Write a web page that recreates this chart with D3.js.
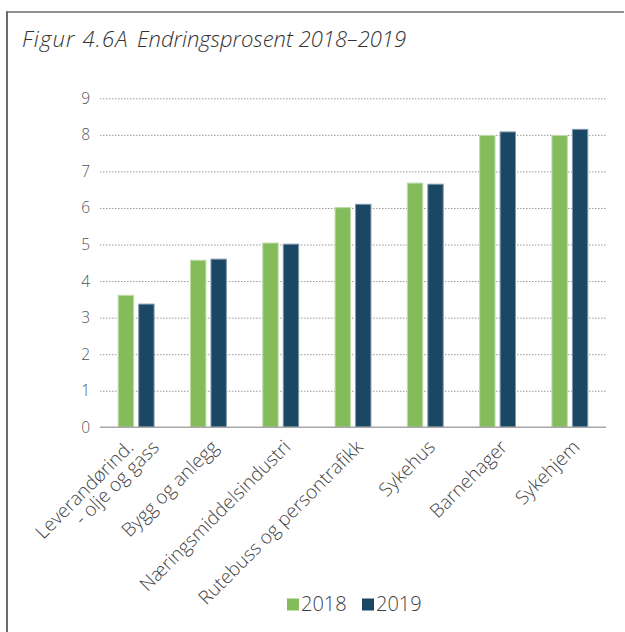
<!DOCTYPE html>
<html>
<head>
<meta charset="utf-8">
<script src="https://cdn.jsdelivr.net/npm/d3@7"></script>
<style>
  html, body { margin: 0; padding: 0; background: #fff; }
  svg { display: block; font-family: "Open Sans", "Noto Sans", sans-serif; }
</style>
</head>
<body>
<svg id="chart" width="625" height="632"></svg>
<script>
// Endringsprosent 2018–2019 per bransje
const categories = [
  "Leverandørind.\n- olje og gass",
  "Bygg og anlegg",
  "Næringsmiddelsindustri",
  "Rutebuss og persontrafikk",
  "Sykehus",
  "Barnehager",
  "Sykehjem"
];
const seriesNames = ["2018", "2019"];
const values2018 = [3.61, 4.57, 5.04, 6.01, 6.68, 7.98, 7.98];
const values2019 = [3.37, 4.60, 5.01, 6.10, 6.65, 8.08, 8.15];
const yTicks = [0, 1, 2, 3, 4, 5, 6, 7, 8, 9];
const figureNo = "Figur 4.6A";
const title = "Endringsprosent 2018–2019";

const colors = { "2018": "#84bc5c", "2019": "#1a4764" };
const strokes = { "2018": "#bcdca6", "2019": "#8199aa" };

const svg = d3.select("#chart");

// frame: top and left rule
svg.append("line").attr("x1", 6).attr("x2", 624).attr("y1", 12).attr("y2", 12)
  .attr("stroke", "#6b6b6b").attr("stroke-width", 1.5);
svg.append("line").attr("x1", 7).attr("x2", 7).attr("y1", 11.25).attr("y2", 632)
  .attr("stroke", "#6b6b6b").attr("stroke-width", 2);

// heading: figure number, then title
const heading = svg.append("g")
  .attr("font-size", 22).attr("font-style", "italic").attr("font-weight", 300)
  .attr("fill", "#333");
heading.append("text").attr("x", 22).attr("y", 47)
  .attr("letter-spacing", 1.2).text(figureNo);
heading.append("text").attr("x", 137).attr("y", 47).text(title);

const plotLeft = 100, plotRight = 606, plotTop = 98.3, plotBottom = 427.3;

const y = d3.scaleLinear().domain([0, 9]).range([plotBottom, plotTop]);
const x0 = d3.scaleBand().domain(categories).range([plotLeft, plotRight])
  .paddingInner(0.49).paddingOuter(0.245);
const x1 = d3.scaleBand().domain(seriesNames).range([0, x0.bandwidth()])
  .paddingInner(0.2);

// gridlines + y tick labels
const yAxis = svg.append("g")
  .attr("transform", `translate(${plotLeft},0)`)
  .call(d3.axisLeft(y).tickValues(yTicks).tickSize(-(plotRight - plotLeft)).tickPadding(10));
yAxis.select(".domain").remove();
yAxis.selectAll(".tick line")
  .attr("stroke", "#9a9a9a").attr("stroke-width", 1).attr("stroke-dasharray", "1.5,1.5")
  .filter(d => d === 0).remove();
yAxis.selectAll(".tick text")
  .attr("font-size", 15.5).attr("fill", "#555").attr("font-family", "'Open Sans', sans-serif")
  .attr("font-weight", 300);

// bars
const rows = categories.map((c, i) => ({ cat: c, vals: [
  { key: "2018", v: values2018[i] },
  { key: "2019", v: values2019[i] }
]}));

const groups = svg.append("g").selectAll("g").data(rows).join("g")
  .attr("transform", d => `translate(${x0(d.cat)},0)`);
groups.selectAll("rect").data(d => d.vals).join("rect")
  .attr("x", d => x1(d.key) + 0.5)
  .attr("width", x1.bandwidth() - 1)
  .attr("y", d => y(d.v))
  .attr("height", d => y(0) - y(d.v))
  .attr("fill", d => colors[d.key])
  .attr("stroke", d => strokes[d.key])
  .attr("stroke-width", 1);

// baseline
svg.append("line").attr("x1", plotLeft).attr("x2", plotRight).attr("y1", y(0)).attr("y2", y(0))
  .attr("stroke", "#a8a8a8").attr("stroke-width", 1.5);

// rotated category labels, hung from the group centre
const labels = svg.append("g").selectAll("g").data(categories).join("g")
  .attr("transform", d => `translate(${x0(d) + x0.bandwidth() / 2},${plotBottom}) rotate(-45)`);
labels.each(function (d) {
  const lines = d.split("\n");
  const t = d3.select(this).append("text")
    .attr("text-anchor", "end")
    .attr("font-size", 19).attr("font-weight", 300).attr("fill", "#3f3f3f");
  if (lines.length === 1) {
    t.append("tspan").attr("x", -7).attr("y", 22.5).text(lines[0]);
  } else {
    t.append("tspan").attr("x", -16).attr("y", 14).text(lines[0]);
    t.append("tspan").attr("x", 2).attr("y", 32).text(lines[1]);
  }
});

// legend
const legend = svg.append("g");
const legendX = [287, 362];
seriesNames.forEach((s, i) => {
  legend.append("rect").attr("x", legendX[i]).attr("y", 598.5)
    .attr("width", 12).attr("height", 12).attr("fill", colors[s]);
  legend.append("text").attr("x", legendX[i] + 14).attr("y", 611)
    .attr("font-size", 20).attr("font-weight", 300).attr("fill", "#3f3f3f").text(s);
});
</script>
</body>
</html>
